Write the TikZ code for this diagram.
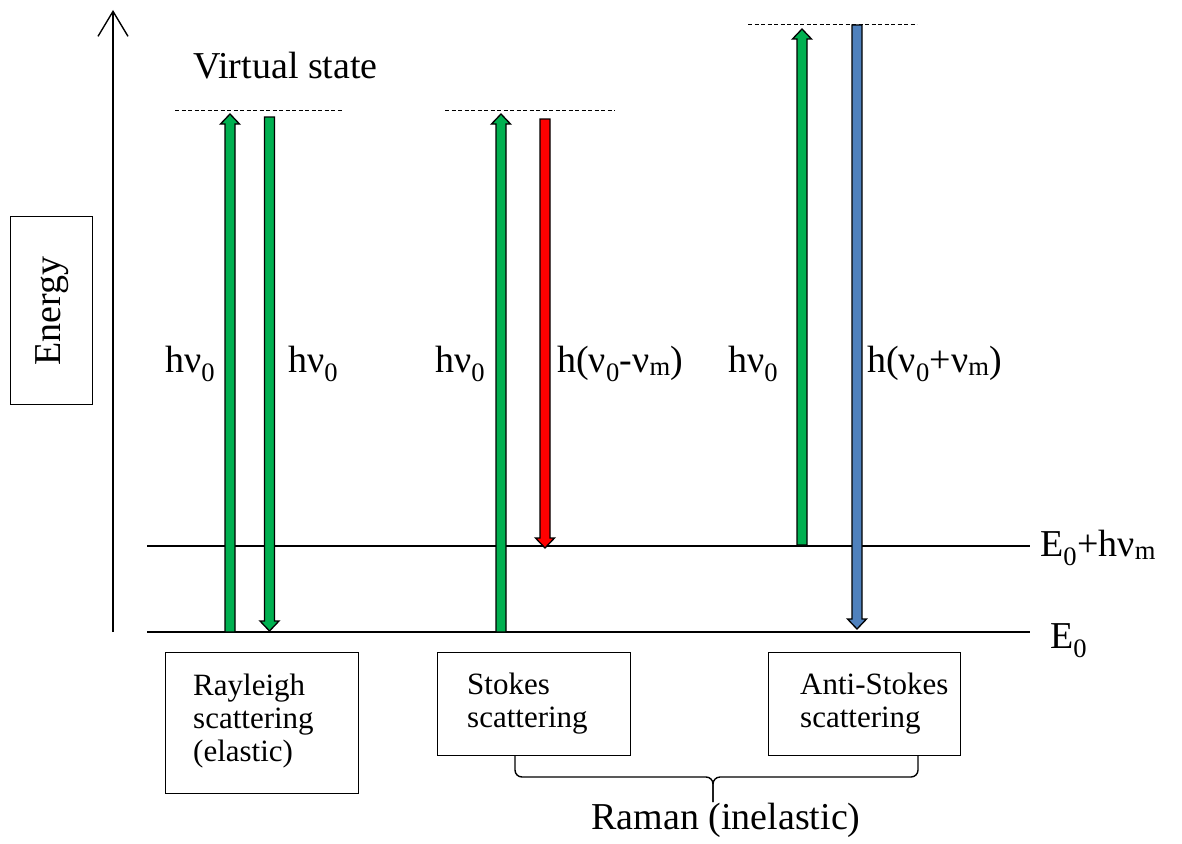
\documentclass[tikz,border=0pt]{standalone}
\usepackage{fontspec}
\setmainfont{Liberation Serif}
\usetikzlibrary{arrows.meta}
\definecolor{agreen}{RGB}{0,176,80}
\definecolor{ared}{RGB}{255,0,0}
\definecolor{ablue}{RGB}{79,129,189}
\newcommand\fatarrow[4]{% color, from, to, head offset
  \draw[fatline, fill=#1] ([xshift=-5pt]#2) -- ([xshift=-5pt,yshift=#4]#3) -- ([xshift=-9.5pt,yshift=#4]#3) -- (#3) -- ([xshift=9.5pt,yshift=#4]#3) -- ([xshift=5pt,yshift=#4]#3) -- ([xshift=5pt]#2) -- cycle;}
\begin{document}
\begin{tikzpicture}[x=1pt,y=-1pt,
  bigfont/.style={font=\fontsize{38}{44}\selectfont},
  lab/.style={bigfont, inner sep=0pt, anchor=base west},
  boxfont/.style={font=\fontsize{31}{33}\selectfont, inner sep=0pt, align=left, anchor=north west},
  frame/.style={draw, line width=1.4pt, anchor=north west, inner sep=0pt},
  level/.style={line width=1.4pt},
  vstate/.style={line width=1pt, dash pattern=on 4pt off 2.5pt},
  fatline/.style={line width=1.3pt, line join=miter},
  bracestyle/.style={line width=1.4pt, rounded corners=7pt},
]
\useasboundingbox (0,0) rectangle (1182,843);

% energy axis
\coordinate (ax0) at (113,632);
\coordinate (ax1) at (113,10);
\draw[line width=1.4pt, -{Straight Barb[length=25pt,width=30pt,line width=1.4pt]}] (ax0) -- (ax1);

% energy box
\node[frame, minimum width=82pt, minimum height=188pt] (ebox) at (10,216) {};
\node[bigfont, inner sep=0pt, rotate=90] (etext) at (ebox.center) {Energy};

% levels
\coordinate (l0a) at (147,632);
\coordinate (l0b) at (1030,632);
\coordinate (l1a) at (147,546);
\coordinate (l1b) at (1030,546);
\draw[level] (l0a) -- (l0b);
\draw[level] (l1a) -- (l1b);
\node[lab] (e0) at (1050,648) {E\textsubscript{0}};
\node[lab] (e1) at (1040,556) {E\textsubscript{0}+hν\textsubscript{m}};

% virtual states
\coordinate (v1a) at (175,110); \coordinate (v1b) at (343,110);
\coordinate (v2a) at (445,110); \coordinate (v2b) at (615,110);
\coordinate (v3a) at (748,25);  \coordinate (v3b) at (917,25);
\draw[vstate] (v1a) -- (v1b);
\draw[vstate] (v2a) -- (v2b);
\draw[vstate] (v3a) -- (v3b);
\node[lab] (vs) at (193,78) {Virtual state};

% arrows
\coordinate (r1b) at (230,632); \coordinate (r1t) at (230,114);
\coordinate (r2t) at (269.5,117); \coordinate (r2b) at (269.5,631);
\coordinate (s1b) at (501,632); \coordinate (s1t) at (501,114);
\coordinate (s2t) at (545,119); \coordinate (s2b) at (545,548);
\coordinate (a1b) at (802,545); \coordinate (a1t) at (802,29);
\coordinate (a2t) at (857,25); \coordinate (a2b) at (857,629);
\fatarrow{agreen}{r1b}{r1t}{-10pt}
\fatarrow{agreen}{r2t}{r2b}{10pt}
\fatarrow{agreen}{s1b}{s1t}{-10pt}
\fatarrow{ared}{s2t}{s2b}{10pt}
\fatarrow{agreen}{a1b}{a1t}{-10pt}
\fatarrow{ablue}{a2t}{a2b}{10pt}

% arrow labels
\node[lab] (t1) at (165,372) {hν\textsubscript{0}};
\node[lab] (t2) at (288,372) {hν\textsubscript{0}};
\node[lab] (t3) at (435,372) {hν\textsubscript{0}};
\node[lab] (t4) at (557,372) {h(ν\textsubscript{0}-ν\textsubscript{m})};
\node[lab] (t5) at (728,372) {hν\textsubscript{0}};
\node[lab] (t6) at (867,372) {h(ν\textsubscript{0}+ν\textsubscript{m})};

% boxes
\node[frame, minimum width=193pt, minimum height=141pt] (rbox) at (165,652) {};
\node[boxfont] (rtext) at (193,674) {Rayleigh\\scattering\\(elastic)};
\node[frame, minimum width=193pt, minimum height=103pt] (sbox) at (437,652) {};
\node[boxfont] (stext) at (467,673) {Stokes\\scattering};
\node[frame, minimum width=192pt, minimum height=103pt] (abox) at (768,652) {};
\node[boxfont] (atext) at (800,673) {Anti-Stokes\\scattering};

% brace
\coordinate (bra) at (515,755);
\coordinate (brb) at (918,755);
\coordinate (brm) at (713,777);
\coordinate (brtip) at (713,802);
\draw[bracestyle] (bra) -- (515,777) -- (brm) -- (brtip);
\draw[bracestyle] (brb) -- (918,777) -- (brm) -- (brtip);
\node[bigfont, inner sep=0pt] (raman) at (726,820) {Raman (inelastic)};
\end{tikzpicture}
\end{document}
